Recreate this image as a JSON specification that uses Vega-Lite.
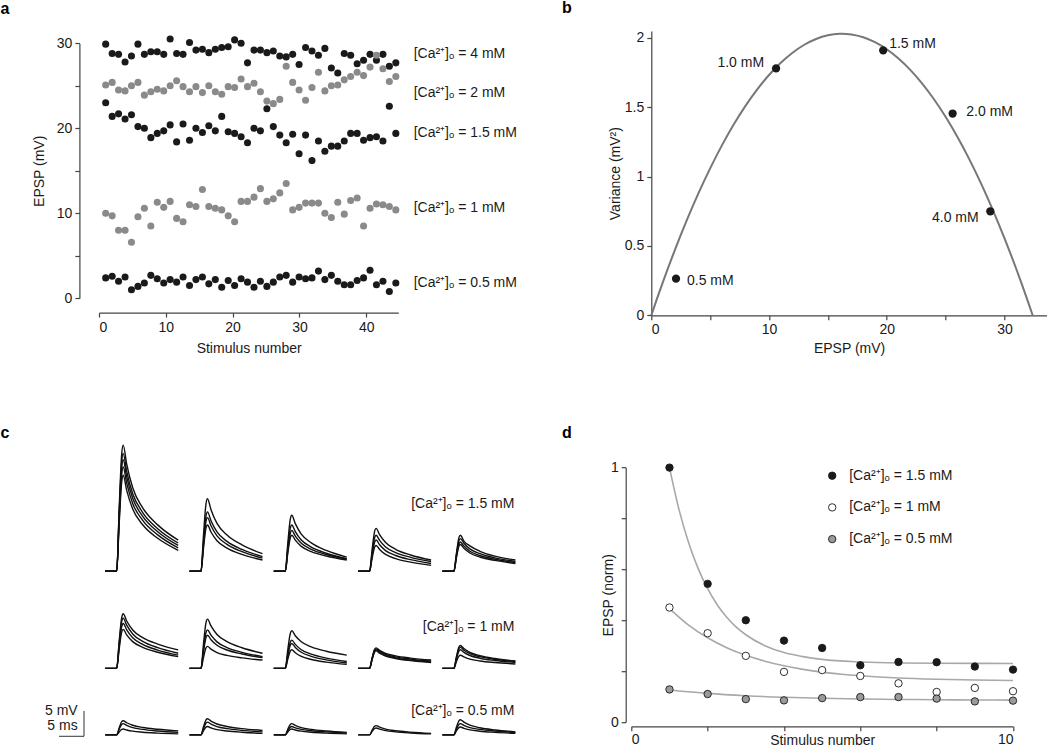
{
  "$schema": "https://vega.github.io/schema/vega-lite/v6.json",
  "padding": {"left": 0, "top": 0, "right": 0, "bottom": 0},
  "config": {
    "font": "Liberation Sans",
    "view": {"stroke": null},
    "axis": {"domainColor": "#444444", "tickColor": "#444444", "labelColor": "#1a1a1a", "titleColor": "#1a1a1a", "labelFontSize": 14, "titleFontSize": 14, "titleFontWeight": "normal", "grid": false, "tickSize": 4.5, "domainWidth": 1.2, "tickWidth": 1.2, "labelFont": "Liberation Sans", "titleFont": "Liberation Sans"},
    "title": {"fontSize": 16, "fontWeight": "bold", "anchor": "start", "frame": "group", "color": "#000000", "font": "Liberation Sans"},
    "text": {"font": "Liberation Sans", "fontSize": 14, "color": "#1a1a1a"}
  },
  "datasets": {
    "scatterA": [
      {"c": "4 mM", "x": [1.0,1.97,2.93,3.9,4.86,5.83,6.79,7.76,8.72,9.69,10.65,11.62,12.58,13.55,14.51,15.48,16.44,17.41,18.37,19.34,20.3,21.27,22.23,23.2,24.16,25.13,26.09,27.06,28.02,28.99,29.95,30.92,31.88,32.85,33.81,34.78,35.74,36.71,37.67,38.64,39.6,40.57,41.53,42.5,43.46,44.43],
       "y": [29.9,28.8,28.7,27.8,28.5,29.9,28.7,29.0,29.0,28.7,30.5,28.8,28.7,30.1,29.2,29.3,28.9,29.3,29.5,29.6,30.4,30.0,27.7,29.2,29.2,28.9,29.1,28.5,28.4,28.7,27.5,29.5,29.1,28.6,29.4,27.1,26.5,28.8,28.6,27.6,28.0,28.7,28.0,28.7,27.3,27.7]},
      {"c": "2 mM", "x": [1.0,1.97,2.93,3.9,4.86,5.83,6.79,7.76,8.72,9.69,10.65,11.62,12.58,13.55,14.51,15.48,16.44,17.41,18.37,19.34,20.3,21.27,22.23,23.2,24.16,25.13,26.09,27.06,28.02,28.99,29.95,30.92,31.88,32.85,33.81,34.78,35.74,36.71,37.67,38.64,39.6,40.57,41.53,42.5,43.46,44.43],
       "y": [25.1,25.4,24.5,24.4,25.0,25.4,23.9,24.3,24.6,24.4,25.0,25.6,24.9,24.3,24.9,24.2,25.0,24.3,24.0,24.9,24.8,25.8,24.9,25.3,24.3,23.2,22.9,23.4,27.3,25.4,24.5,23.3,24.8,26.6,24.4,25.0,25.1,25.7,26.1,26.6,26.2,27.2,28.6,27.0,25.5,26.1]},
      {"c": "1.5 mM", "x": [1.0,1.97,2.93,3.9,4.86,5.83,6.79,7.76,8.72,9.69,10.65,11.62,12.58,13.55,14.51,15.48,16.44,17.41,18.37,19.34,20.3,21.27,22.23,23.2,24.16,25.13,26.09,27.06,28.02,28.99,29.95,30.92,31.88,32.85,33.81,34.78,35.74,36.71,37.67,38.64,39.6,40.57,41.53,42.5,43.46,44.43],
       "y": [23.0,21.4,21.7,21.1,21.6,20.2,20.0,18.9,19.4,19.7,20.4,18.4,20.5,18.6,20.0,19.5,20.3,19.7,21.4,19.6,19.4,19.0,18.3,20.0,19.7,22.3,20.2,19.2,18.3,19.3,17.0,19.2,16.2,18.5,17.3,17.9,17.9,18.5,19.4,19.4,18.6,18.9,19.0,18.5,22.6,19.4]},
      {"c": "1 mM", "x": [1.0,1.97,2.93,3.9,4.86,5.83,6.79,7.76,8.72,9.69,10.65,11.62,12.58,13.55,14.51,15.48,16.44,17.41,18.37,19.34,20.3,21.27,22.23,23.2,24.16,25.13,26.09,27.06,28.02,28.99,29.95,30.92,31.88,32.85,33.81,34.78,35.74,36.71,37.67,38.64,39.6,40.57,41.53,42.5,43.46,44.43],
       "y": [10.0,9.7,8.0,8.0,6.6,9.6,10.6,8.5,11.3,10.7,11.4,9.4,9.0,11.0,10.8,12.8,10.8,10.6,10.4,9.7,9.0,11.4,11.4,11.9,12.9,11.4,11.7,12.4,13.5,10.4,10.7,11.2,11.2,11.2,10.0,9.5,11.3,9.9,11.5,11.8,8.5,10.6,11.1,11.0,10.8,10.4]},
      {"c": "0.5 mM", "x": [1.0,1.97,2.93,3.9,4.86,5.83,6.79,7.76,8.72,9.69,10.65,11.62,12.58,13.55,14.51,15.48,16.44,17.41,18.37,19.34,20.3,21.27,22.23,23.2,24.16,25.13,26.09,27.06,28.02,28.99,29.95,30.92,31.88,32.85,33.81,34.78,35.74,36.71,37.67,38.64,39.6,40.57,41.53,42.5,43.46,44.43],
       "y": [2.4,2.6,2.0,2.5,1.0,1.4,1.8,2.7,2.3,1.8,2.2,1.9,2.5,1.5,2.2,2.5,1.7,2.2,1.3,2.1,1.5,2.3,1.9,1.3,2.0,1.4,1.9,2.5,2.7,1.9,2.5,2.3,2.4,3.2,2.2,2.7,2.0,1.6,1.6,2.1,2.4,3.3,1.6,2.0,0.8,1.8]}
    ],
    "labelsA": [
      {"lab": "[Ca\u00b2\u207a]\u2092 = 4 mM", "x": 47.1, "y": 28.7},
      {"lab": "[Ca\u00b2\u207a]\u2092 = 2 mM", "x": 47.1, "y": 24.1},
      {"lab": "[Ca\u00b2\u207a]\u2092 = 1.5 mM", "x": 47.1, "y": 19.5},
      {"lab": "[Ca\u00b2\u207a]\u2092 = 1 mM", "x": 47.1, "y": 10.6},
      {"lab": "[Ca\u00b2\u207a]\u2092 = 0.5 mM", "x": 47.1, "y": 1.76}
    ],
    "varpts": [
      {"c": "0.5 mM", "e": 2.1, "v": 0.264},
      {"c": "1.0 mM", "e": 10.6, "v": 1.78},
      {"c": "1.5 mM", "e": 19.7, "v": 1.91},
      {"c": "2.0 mM", "e": 25.6, "v": 1.455},
      {"c": "4.0 mM", "e": 28.8, "v": 0.75}
    ],
    "parab": [
      {"e": [0,0.5,1,2,3,4,5,6,7,8,9,10,11,12,13,14,15,16,16.2,17,18,19,20,21,22,23,24,25,26,27,28,29,30,31,31.5,32,32.4],
       "v": [0,0.1234,0.2429,0.4703,0.6822,0.8787,1.0597,1.2252,1.3753,1.5099,1.6290,1.7326,1.8208,1.8935,1.9508,1.9925,2.0188,2.0297,2.0300,2.0250,2.0049,1.9693,1.9183,1.8518,1.7698,1.6723,1.5594,1.4310,1.2871,1.1278,0.9530,0.7627,0.5569,0.3357,0.2193,0.0990,0]}
    ],
    "traces": [
      {"c": "1.5 mM", "s": 1, "k": 1, "t": [0,2.3,2.8,3.3,3.6,4.3,5.5,7.5,10.5,14.6], "v": [0,0,12.95,24.09,25.9,22.0,17.13,13.03,9.52,6.4]},
      {"c": "1.5 mM", "s": 1, "k": 2, "t": [0,2.3,2.8,3.3,3.6,4.3,5.5,7.5,10.5,14.6], "v": [0,0,12.1,22.5,24.2,20.52,15.92,12.06,8.74,5.8]},
      {"c": "1.5 mM", "s": 1, "k": 3, "t": [0,2.3,2.8,3.3,3.6,4.3,5.5,7.5,10.5,14.6], "v": [0,0,11.45,21.3,22.9,19.38,14.98,11.28,8.12,5.3]},
      {"c": "1.5 mM", "s": 1, "k": 4, "t": [0,2.3,2.8,3.3,3.6,4.3,5.5,7.5,10.5,14.6], "v": [0,0,10.7,19.9,21.4,18.08,13.93,10.44,7.46,4.8]},
      {"c": "1.5 mM", "s": 1, "k": 5, "t": [0,2.3,2.8,3.3,3.6,4.3,5.5,7.5,10.5,14.6], "v": [0,0,9.85,18.32,19.7,16.62,12.77,9.54,6.76,4.3]},
      {"c": "1.5 mM", "s": 2, "k": 1, "t": [0,2.3,2.8,3.3,3.6,4.3,5.5,7.5,10.5,14.6], "v": [0,0,7.45,13.86,14.9,12.64,9.82,7.44,5.41,3.6]},
      {"c": "1.5 mM", "s": 2, "k": 2, "t": [0,2.3,2.8,3.3,3.6,4.3,5.5,7.5,10.5,14.6], "v": [0,0,6.1,11.35,12.2,10.36,8.06,6.13,4.47,3.0]},
      {"c": "1.5 mM", "s": 2, "k": 3, "t": [0,2.3,2.8,3.3,3.6,4.3,5.5,7.5,10.5,14.6], "v": [0,0,5.5,10.23,11.0,9.34,7.27,5.52,4.03,2.7]},
      {"c": "1.5 mM", "s": 2, "k": 4, "t": [0,2.3,2.8,3.3,3.6,4.3,5.5,7.5,10.5,14.6], "v": [0,0,4.75,8.84,9.5,8.06,6.26,4.75,3.45,2.3]},
      {"c": "1.5 mM", "s": 3, "k": 1, "t": [0,2.3,2.8,3.3,3.6,4.3,5.5,7.5,10.5,14.6], "v": [0,0,5.75,10.7,11.5,9.78,7.63,5.82,4.28,2.9]},
      {"c": "1.5 mM", "s": 3, "k": 2, "t": [0,2.3,2.8,3.3,3.6,4.3,5.5,7.5,10.5,14.6], "v": [0,0,4.75,8.84,9.5,8.12,6.4,4.95,3.7,2.6]},
      {"c": "1.5 mM", "s": 3, "k": 3, "t": [0,2.3,2.8,3.3,3.6,4.3,5.5,7.5,10.5,14.6], "v": [0,0,4.2,7.81,8.4,7.22,5.75,4.51,3.44,2.5]},
      {"c": "1.5 mM", "s": 3, "k": 4, "t": [0,2.3,2.8,3.3,3.6,4.3,5.5,7.5,10.5,14.6], "v": [0,0,3.7,6.88,7.4,6.38,5.11,4.03,3.12,2.3]},
      {"c": "1.5 mM", "s": 4, "k": 1, "t": [0,2.3,2.8,3.3,3.6,4.3,5.5,7.5,10.5,14.6], "v": [0,0,4.4,8.18,8.8,7.5,5.88,4.51,3.34,2.3]},
      {"c": "1.5 mM", "s": 4, "k": 2, "t": [0,2.3,2.8,3.3,3.6,4.3,5.5,7.5,10.5,14.6], "v": [0,0,3.7,6.88,7.4,6.32,4.97,3.84,2.86,2.0]},
      {"c": "1.5 mM", "s": 4, "k": 3, "t": [0,2.3,2.8,3.3,3.6,4.3,5.5,7.5,10.5,14.6], "v": [0,0,3.2,5.95,6.4,5.44,4.24,3.23,2.37,1.6]},
      {"c": "1.5 mM", "s": 4, "k": 4, "t": [0,2.3,2.8,3.3,3.6,4.3,5.5,7.5,10.5,14.6], "v": [0,0,2.65,4.93,5.3,4.48,3.46,2.59,1.86,1.2]},
      {"c": "1.5 mM", "s": 5, "k": 1, "t": [0,2.3,2.8,3.3,3.6,4.3,5.5,7.5,10.5,14.6], "v": [0,0,3.6,6.9,7.4,6.2,5.2,4.1,3.1,2.3]},
      {"c": "1.5 mM", "s": 5, "k": 2, "t": [0,2.3,2.8,3.3,3.6,4.3,5.5,7.5,10.5,14.6], "v": [0,0,3.35,6.23,6.7,5.76,4.59,3.6,2.75,2.0]},
      {"c": "1.5 mM", "s": 5, "k": 3, "t": [0,2.3,2.8,3.3,3.6,4.3,5.5,7.5,10.5,14.6], "v": [0,0,3.0,5.58,6.0,5.16,4.11,3.23,2.47,1.8]},
      {"c": "1.5 mM", "s": 5, "k": 4, "t": [0,2.3,2.8,3.3,3.6,4.3,5.5,7.5,10.5,14.6], "v": [0,0,2.75,5.12,5.5,4.72,3.75,2.93,2.22,1.6]},
      {"c": "1 mM", "s": 1, "k": 1, "t": [0,2.3,2.8,3.3,3.6,4.3,5.5,7.5,10.5,14.6], "v": [0,0,5.6,10.42,11.2,9.72,7.87,6.32,4.98,3.8]},
      {"c": "1 mM", "s": 1, "k": 2, "t": [0,2.3,2.8,3.3,3.6,4.3,5.5,7.5,10.5,14.6], "v": [0,0,5.15,9.58,10.3,8.86,7.06,5.55,4.25,3.1]},
      {"c": "1 mM", "s": 1, "k": 3, "t": [0,2.3,2.8,3.3,3.6,4.3,5.5,7.5,10.5,14.6], "v": [0,0,4.6,8.56,9.2,7.9,6.28,4.91,3.74,2.7]},
      {"c": "1 mM", "s": 1, "k": 4, "t": [0,2.3,2.8,3.3,3.6,4.3,5.5,7.5,10.5,14.6], "v": [0,0,4.0,7.44,8.0,6.88,5.48,4.3,3.3,2.4]},
      {"c": "1 mM", "s": 2, "k": 1, "t": [0,2.3,2.8,3.3,3.6,4.3,5.5,7.5,10.5,14.6], "v": [0,0,5.05,9.39,10.1,8.7,6.95,5.48,4.22,3.1]},
      {"c": "1 mM", "s": 2, "k": 2, "t": [0,2.3,2.8,3.3,3.6,4.3,5.5,7.5,10.5,14.6], "v": [0,0,3.95,7.35,7.9,6.8,5.43,4.27,3.28,2.4]},
      {"c": "1 mM", "s": 2, "k": 3, "t": [0,2.3,2.8,3.3,3.6,4.3,5.5,7.5,10.5,14.6], "v": [0,0,3.4,6.32,6.8,5.88,4.73,3.76,2.94,2.2]},
      {"c": "1 mM", "s": 2, "k": 4, "t": [0,2.3,2.8,3.3,3.6,4.3,5.5,7.5,10.5,14.6], "v": [0,0,2.25,4.19,4.5,3.94,3.24,2.65,2.15,1.7]},
      {"c": "1 mM", "s": 3, "k": 1, "t": [0,2.3,2.8,3.3,3.6,4.3,5.5,7.5,10.5,14.6], "v": [0,0,3.85,7.16,7.7,6.7,5.45,4.4,3.5,2.7]},
      {"c": "1 mM", "s": 3, "k": 2, "t": [0,2.3,2.8,3.3,3.6,4.3,5.5,7.5,10.5,14.6], "v": [0,0,2.9,5.39,5.8,4.92,3.82,2.9,2.1,1.4]},
      {"c": "1 mM", "s": 3, "k": 3, "t": [0,2.3,2.8,3.3,3.6,4.3,5.5,7.5,10.5,14.6], "v": [0,0,2.55,4.74,5.1,4.3,3.3,2.46,1.74,1.1]},
      {"c": "1 mM", "s": 3, "k": 4, "t": [0,2.3,2.8,3.3,3.6,4.3,5.5,7.5,10.5,14.6], "v": [0,0,1.9,3.53,3.8,3.2,2.45,1.82,1.28,0.8]},
      {"c": "1 mM", "s": 4, "k": 1, "t": [0,2.3,2.8,3.3,3.6,4.3,5.5,7.5,10.5,14.6], "v": [0,0,2.1,3.91,4.2,3.7,3.08,2.55,2.1,1.7]},
      {"c": "1 mM", "s": 4, "k": 2, "t": [0,2.3,2.8,3.3,3.6,4.3,5.5,7.5,10.5,14.6], "v": [0,0,2.0,3.72,4.0,3.5,2.88,2.35,1.9,1.5]},
      {"c": "1 mM", "s": 4, "k": 3, "t": [0,2.3,2.8,3.3,3.6,4.3,5.5,7.5,10.5,14.6], "v": [0,0,1.9,3.53,3.8,3.3,2.68,2.15,1.7,1.3]},
      {"c": "1 mM", "s": 4, "k": 4, "t": [0,2.3,2.8,3.3,3.6,4.3,5.5,7.5,10.5,14.6], "v": [0,0,1.8,3.35,3.6,3.12,2.52,2.02,1.58,1.2]},
      {"c": "1 mM", "s": 5, "k": 1, "t": [0,2.3,2.8,3.3,3.6,4.3,5.5,7.5,10.5,14.6], "v": [0,0,2.35,4.37,4.7,4.06,3.26,2.59,2.01,1.5]},
      {"c": "1 mM", "s": 5, "k": 2, "t": [0,2.3,2.8,3.3,3.6,4.3,5.5,7.5,10.5,14.6], "v": [0,0,2.15,4.0,4.3,3.72,3.0,2.39,1.86,1.4]},
      {"c": "1 mM", "s": 5, "k": 3, "t": [0,2.3,2.8,3.3,3.6,4.3,5.5,7.5,10.5,14.6], "v": [0,0,1.9,3.53,3.8,3.28,2.63,2.08,1.62,1.2]},
      {"c": "1 mM", "s": 5, "k": 4, "t": [0,2.3,2.8,3.3,3.6,4.3,5.5,7.5,10.5,14.6], "v": [0,0,1.35,2.51,2.7,2.34,1.89,1.51,1.19,0.9]},
      {"c": "0.5 mM", "s": 1, "k": 1, "t": [0,2.3,2.8,3.3,3.6,4.3,5.5,7.5,10.5,14.6], "v": [0,0,1.45,2.7,2.9,2.48,1.96,1.51,1.14,0.8]},
      {"c": "0.5 mM", "s": 1, "k": 2, "t": [0,2.3,2.8,3.3,3.6,4.3,5.5,7.5,10.5,14.6], "v": [0,0,1.15,2.14,2.3,1.94,1.49,1.11,0.79,0.5]},
      {"c": "0.5 mM", "s": 1, "k": 3, "t": [0,2.3,2.8,3.3,3.6,4.3,5.5,7.5,10.5,14.6], "v": [0,0,0.6,1.12,1.2,1.0,0.75,0.54,0.36,0.2]},
      {"c": "0.5 mM", "s": 2, "k": 1, "t": [0,2.3,2.8,3.3,3.6,4.3,5.5,7.5,10.5,14.6], "v": [0,0,1.65,3.07,3.3,2.82,2.22,1.72,1.28,0.9]},
      {"c": "0.5 mM", "s": 2, "k": 2, "t": [0,2.3,2.8,3.3,3.6,4.3,5.5,7.5,10.5,14.6], "v": [0,0,1.3,2.42,2.6,2.2,1.7,1.28,0.92,0.6]},
      {"c": "0.5 mM", "s": 2, "k": 3, "t": [0,2.3,2.8,3.3,3.6,4.3,5.5,7.5,10.5,14.6], "v": [0,0,0.85,1.58,1.7,1.42,1.07,0.78,0.52,0.3]},
      {"c": "0.5 mM", "s": 3, "k": 1, "t": [0,2.3,2.8,3.3,3.6,4.3,5.5,7.5,10.5,14.6], "v": [0,0,1.15,2.14,2.3,1.94,1.49,1.11,0.79,0.5]},
      {"c": "0.5 mM", "s": 3, "k": 2, "t": [0,2.3,2.8,3.3,3.6,4.3,5.5,7.5,10.5,14.6], "v": [0,0,0.85,1.58,1.7,1.44,1.12,0.84,0.61,0.4]},
      {"c": "0.5 mM", "s": 3, "k": 3, "t": [0,2.3,2.8,3.3,3.6,4.3,5.5,7.5,10.5,14.6], "v": [0,0,0.6,1.12,1.2,1.0,0.75,0.54,0.36,0.2]},
      {"c": "0.5 mM", "s": 4, "k": 1, "t": [0,2.3,2.8,3.3,3.6,4.3,5.5,7.5,10.5,14.6], "v": [0,0,0.95,1.77,1.9,1.58,1.18,0.84,0.56,0.3]},
      {"c": "0.5 mM", "s": 4, "k": 2, "t": [0,2.3,2.8,3.3,3.6,4.3,5.5,7.5,10.5,14.6], "v": [0,0,0.7,1.3,1.4,1.16,0.86,0.61,0.39,0.2]},
      {"c": "0.5 mM", "s": 5, "k": 1, "t": [0,2.3,2.8,3.3,3.6,4.3,5.5,7.5,10.5,14.6], "v": [0,0,1.55,2.88,3.1,2.6,1.98,1.45,1.0,0.6]},
      {"c": "0.5 mM", "s": 5, "k": 2, "t": [0,2.3,2.8,3.3,3.6,4.3,5.5,7.5,10.5,14.6], "v": [0,0,1.15,2.14,2.3,1.94,1.49,1.11,0.79,0.5]},
      {"c": "0.5 mM", "s": 5, "k": 3, "t": [0,2.3,2.8,3.3,3.6,4.3,5.5,7.5,10.5,14.6], "v": [0,0,0.8,1.49,1.6,1.34,1.02,0.74,0.51,0.3]},
      {"c": "1.5 mM", "s": 5, "lab": "[Ca\u00b2\u207a]\u2092 = 1.5 mM", "t": [14.4], "v": [13.76]},
      {"c": "1 mM", "s": 5, "lab": "[Ca\u00b2\u207a]\u2092 = 1 mM", "t": [14.4], "v": [8.4]},
      {"c": "0.5 mM", "s": 5, "lab": "[Ca\u00b2\u207a]\u2092 = 0.5 mM", "t": [14.4], "v": [4.9]},
      {"c": "0.5 mM", "s": 1, "lab": "5 mV", "t": [-5.5], "v": [4.83]},
      {"c": "0.5 mM", "s": 1, "lab": "5 ms", "t": [-5.5], "v": [1.75]},
      {"c": "0.5 mM", "s": 1, "sb": 1, "t": [-9.24, -4.24, -4.24], "v": [-0.3, -0.3, 4.9]}
    ],
    "normpts": [
      {"c": "[Ca\u00b2\u207a]\u2092 = 1.5 mM", "t": [1,2,3,4,5,6,7,8,9,10], "v": [1.0,0.543,0.400,0.320,0.291,0.223,0.236,0.235,0.218,0.206]},
      {"c": "[Ca\u00b2\u207a]\u2092 = 1 mM", "t": [1,2,3,4,5,6,7,8,9,10], "v": [0.450,0.349,0.260,0.197,0.204,0.181,0.152,0.118,0.134,0.121]},
      {"c": "[Ca\u00b2\u207a]\u2092 = 0.5 mM", "t": [1,2,3,4,5,6,7,8,9,10], "v": [0.128,0.110,0.090,0.085,0.094,0.098,0.098,0.092,0.081,0.084]}
    ],
    "fits": [
      {"f": "1.5", "t": [1,1.25,1.5,1.75,2,2.25,2.5,2.75,3,3.5,4,4.5,5,6,7,8,10], "v": [1.0,0.835,0.706,0.604,0.524,0.461,0.412,0.373,0.343,0.300,0.273,0.257,0.246,0.236,0.232,0.231,0.230]},
      {"f": "1", "t": [1,1.5,2,2.5,3,3.5,4,4.5,5,5.5,6,7,8,9,10], "v": [0.446,0.381,0.331,0.292,0.262,0.239,0.221,0.207,0.196,0.188,0.182,0.173,0.168,0.165,0.163]},
      {"f": "0.5", "t": [1,2,3,4,5,6,7,8,9,10], "v": [0.126,0.1125,0.1034,0.0973,0.0933,0.0905,0.0887,0.0875,0.0867,0.0861]}
    ]
  },
  "spacing": 68.2,
  "vconcat": [
    {
      "spacing": 44.3,
      "hconcat": [
        {
          "title": {"text": "a", "dx": -98.5, "offset": 13.7},
          "width": 299.3,
          "height": 267.3,
          "layer": [
            {
              "data": {"name": "scatterA"},
              "transform": [{"flatten": ["x", "y"]}],
              "mark": {"type": "circle", "size": 50, "opacity": 1},
              "encoding": {
                "x": {"field": "x", "type": "quantitative", "scale": {"domain": [0, 44.8], "nice": false},
                      "axis": {"values": [0, 10, 20, 30, 40], "offset": 14.3, "title": "Stimulus number", "labelPadding": 3, "titlePadding": 7}},
                "y": {"field": "y", "type": "quantitative", "scale": {"domain": [0, 30], "nice": false, "rangeMax": 12.3},
                      "axis": {"values": [0, 5, 10, 15, 20, 25, 30], "labelExpr": "datum.value % 10 === 0 ? datum.label : ''", "offset": 19.6, "title": "EPSP (mV)", "labelPadding": 3, "titlePadding": 10}},
                "color": {"field": "c", "type": "nominal", "legend": null,
                          "scale": {"domain": ["4 mM", "2 mM", "1.5 mM", "1 mM", "0.5 mM"], "range": ["#1a1a1a", "#8a8a8a", "#1a1a1a", "#8a8a8a", "#1a1a1a"]}}
              }
            },
            {
              "data": {"name": "labelsA"},
              "mark": {"type": "text", "align": "left", "baseline": "middle", "fontSize": 14},
              "encoding": {
                "x": {"field": "x", "type": "quantitative"},
                "y": {"field": "y", "type": "quantitative"},
                "text": {"field": "lab"}
              }
            }
          ]
        },
        {
          "title": {"text": "b", "dx": -89.3, "offset": 13.7},
          "width": 395.5,
          "height": 284.3,
          "layer": [
            {
              "data": {"name": "parab"},
              "transform": [{"flatten": ["e", "v"]}],
              "mark": {"type": "line", "stroke": "#777777", "strokeWidth": 2, "interpolate": "monotone"},
              "encoding": {
                "x": {"field": "e", "type": "quantitative", "scale": {"domain": [0, 33.6], "nice": false},
                      "axis": {"values": [0, 5, 10, 15, 20, 25, 30], "labelExpr": "datum.value % 10 === 0 ? datum.label : ''", "title": "EPSP (mV)", "labelPadding": 3, "titlePadding": 5}},
                "y": {"field": "v", "type": "quantitative", "scale": {"domain": [0, 2.05], "nice": false},
                      "axis": {"values": [0, 0.5, 1, 1.5, 2], "format": "~g", "title": "Variance (mV\u00b2)", "labelPadding": 3, "titlePadding": 2}}
              }
            },
            {
              "data": {"name": "varpts"},
              "mark": {"type": "circle", "size": 68, "color": "#1a1a1a", "opacity": 1},
              "encoding": {"x": {"field": "e", "type": "quantitative"}, "y": {"field": "v", "type": "quantitative"}}
            },
            {
              "data": {"name": "varpts"},
              "transform": [{"filter": "datum.c === '0.5 mM'"}],
              "mark": {"type": "text", "align": "left", "baseline": "middle", "dx": 11, "dy": 2.6},
              "encoding": {"x": {"field": "e", "type": "quantitative"}, "y": {"field": "v", "type": "quantitative"}, "text": {"field": "c"}}
            },
            {
              "data": {"name": "varpts"},
              "transform": [{"filter": "datum.c === '1.0 mM'"}],
              "mark": {"type": "text", "align": "right", "baseline": "middle", "dx": -12, "dy": -5},
              "encoding": {"x": {"field": "e", "type": "quantitative"}, "y": {"field": "v", "type": "quantitative"}, "text": {"field": "c"}}
            },
            {
              "data": {"name": "varpts"},
              "transform": [{"filter": "datum.c === '1.5 mM'"}],
              "mark": {"type": "text", "align": "left", "baseline": "middle", "dx": 6, "dy": -6},
              "encoding": {"x": {"field": "e", "type": "quantitative"}, "y": {"field": "v", "type": "quantitative"}, "text": {"field": "c"}}
            },
            {
              "data": {"name": "varpts"},
              "transform": [{"filter": "datum.c === '2.0 mM'"}],
              "mark": {"type": "text", "align": "left", "baseline": "middle", "dx": 13.7, "dy": -1.6},
              "encoding": {"x": {"field": "e", "type": "quantitative"}, "y": {"field": "v", "type": "quantitative"}, "text": {"field": "c"}}
            },
            {
              "data": {"name": "varpts"},
              "transform": [{"filter": "datum.c === '4.0 mM'"}],
              "mark": {"type": "text", "align": "right", "baseline": "middle", "dx": -11.6, "dy": 6.3},
              "encoding": {"x": {"field": "e", "type": "quantitative"}, "y": {"field": "v", "type": "quantitative"}, "text": {"field": "c"}}
            }
          ]
        }
      ]
    },
    {
      "spacing": 42.3,
      "hconcat": [
        {
          "title": {"text": "c", "dx": -98.5, "offset": 1},
          "spacing": 10,
          "vconcat": [
            {
              "data": {"name": "traces"},
              "transform": [{"filter": "datum.c === '1.5 mM'"}, {"flatten": ["t", "v"]}],
              "facet": {"column": {"field": "s", "type": "ordinal", "title": null, "header": {"labels": false, "title": null}}},
              "spacing": 3.3,
              "bounds": "flush",
              "spec": {
                "width": 80.2,
                "height": 133.9,
                "layer": [
                  {
                    "transform": [{"filter": "datum.k != null"}],
                    "mark": {"type": "line", "stroke": "#111111", "strokeWidth": 1.4, "interpolate": "monotone"},
                    "encoding": {
                      "x": {"field": "t", "type": "quantitative", "scale": {"domain": [-1.24, 14.8], "nice": false, "zero": false}, "axis": null},
                      "y": {"field": "v", "type": "quantitative", "scale": {"domain": [-1, 26.5], "nice": false, "zero": false}, "axis": null},
                      "detail": {"field": "k"}
                    }
                  },
                  {
                    "transform": [{"filter": "datum.lab != null"}],
                    "mark": {"type": "text", "align": "right", "baseline": "middle", "fontSize": 14},
                    "encoding": {
                      "x": {"field": "t", "type": "quantitative"},
                      "y": {"field": "v", "type": "quantitative"},
                      "text": {"field": "lab"}
                    }
                  }
                ]
              }
            },
            {
              "data": {"name": "traces"},
              "transform": [{"filter": "datum.c === '1 mM'"}, {"flatten": ["t", "v"]}],
              "facet": {"column": {"field": "s", "type": "ordinal", "title": null, "header": {"labels": false, "title": null}}},
              "spacing": 3.3,
              "bounds": "flush",
              "spec": {
                "width": 80.2,
                "height": 87.0,
                "layer": [
                  {
                    "transform": [{"filter": "datum.k != null"}],
                    "mark": {"type": "line", "stroke": "#111111", "strokeWidth": 1.4, "interpolate": "monotone"},
                    "encoding": {
                      "x": {"field": "t", "type": "quantitative", "scale": {"domain": [-1.24, 14.8], "nice": false, "zero": false}, "axis": null},
                      "y": {"field": "v", "type": "quantitative", "scale": {"domain": [-1, 16.86], "nice": false, "zero": false}, "axis": null},
                      "detail": {"field": "k"}
                    }
                  },
                  {
                    "transform": [{"filter": "datum.lab != null"}],
                    "mark": {"type": "text", "align": "right", "baseline": "middle", "fontSize": 14},
                    "encoding": {
                      "x": {"field": "t", "type": "quantitative"},
                      "y": {"field": "v", "type": "quantitative"},
                      "text": {"field": "lab"}
                    }
                  }
                ]
              }
            },
            {
              "data": {"name": "traces"},
              "transform": [{"filter": "datum.c === '0.5 mM'"}, {"flatten": ["t", "v"]}],
              "facet": {"column": {"field": "s", "type": "ordinal", "title": null, "header": {"labels": false, "title": null}}},
              "spacing": 3.3,
              "bounds": "flush",
              "spec": {
                "width": 80.2,
                "height": 56.5,
                "layer": [
                  {
                    "transform": [{"filter": "datum.k != null"}],
                    "mark": {"type": "line", "stroke": "#111111", "strokeWidth": 1.4, "interpolate": "monotone"},
                    "encoding": {
                      "x": {"field": "t", "type": "quantitative", "scale": {"domain": [-1.24, 14.8], "nice": false, "zero": false}, "axis": null},
                      "y": {"field": "v", "type": "quantitative", "scale": {"domain": [-1, 10.6], "nice": false, "zero": false}, "axis": null},
                      "detail": {"field": "k"}
                    }
                  },
                  {
                    "transform": [{"filter": "datum.sb != null"}],
                    "mark": {"type": "line", "stroke": "#333333", "strokeWidth": 1},
                    "encoding": {
                      "x": {"field": "t", "type": "quantitative"},
                      "y": {"field": "v", "type": "quantitative"}
                    }
                  },
                  {
                    "transform": [{"filter": "datum.lab != null"}],
                    "mark": {"type": "text", "align": "right", "baseline": "middle", "fontSize": 14},
                    "encoding": {
                      "x": {"field": "t", "type": "quantitative"},
                      "y": {"field": "v", "type": "quantitative"},
                      "text": {"field": "lab"}
                    }
                  }
                ]
              }
            }
          ]
        },
        {
          "title": {"text": "d", "dx": -69.3, "offset": 1.5},
          "width": 381.7,
          "height": 279.8,
          "layer": [
            {
              "data": {"name": "fits"},
              "transform": [{"flatten": ["t", "v"]}],
              "mark": {"type": "line", "stroke": "#a8a8a8", "strokeWidth": 1.6, "interpolate": "monotone"},
              "encoding": {
                "x": {"field": "t", "type": "quantitative", "scale": {"domain": [0, 10], "nice": false},
                      "axis": {"values": [0, 1, 2, 3, 4, 5, 6, 7, 8, 9, 10], "labelExpr": "datum.value === 0 || datum.value === 10 ? datum.label : ''", "offset": 4.3, "title": "Stimulus number", "labelPadding": 1.5, "titlePadding": -13}},
                "y": {"field": "v", "type": "quantitative", "scale": {"domain": [0, 1], "nice": false, "rangeMax": 25.4},
                      "axis": {"values": [0, 0.2, 0.4, 0.6, 0.8, 1], "format": "~g", "labelExpr": "datum.value === 0 || datum.value === 1 ? datum.label : ''", "offset": 5.6, "title": "EPSP (norm)", "labelPadding": 3, "titlePadding": -5}},
                "detail": {"field": "f"}
              }
            },
            {
              "data": {"name": "normpts"},
              "transform": [{"flatten": ["t", "v"]}],
              "mark": {"type": "circle", "size": 55, "stroke": "#1a1a1a", "strokeWidth": 0.9, "opacity": 1},
              "encoding": {
                "x": {"field": "t", "type": "quantitative"},
                "y": {"field": "v", "type": "quantitative"},
                "fill": {"field": "c", "type": "nominal",
                         "scale": {"domain": ["[Ca\u00b2\u207a]\u2092 = 1.5 mM", "[Ca\u00b2\u207a]\u2092 = 1 mM", "[Ca\u00b2\u207a]\u2092 = 0.5 mM"], "range": ["#1a1a1a", "#ffffff", "#9a9a9a"]},
                         "legend": {"title": null, "orient": "none", "legendX": 726.2, "legendY": 437.7, "symbolType": "circle", "symbolSize": 55, "symbolStrokeColor": "#1a1a1a", "symbolStrokeWidth": 0.9, "labelFontSize": 14, "labelFont": "Liberation Sans", "labelColor": "#1a1a1a", "labelOffset": 10, "rowPadding": 17.7, "padding": 0}}
              }
            }
          ]
        }
      ]
    }
  ]
}
